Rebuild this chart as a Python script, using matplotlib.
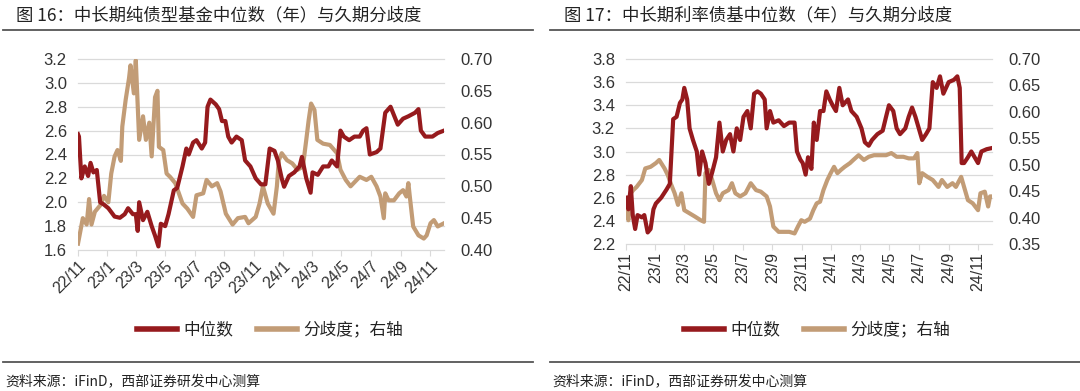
import matplotlib
matplotlib.use("Agg")
import matplotlib.pyplot as plt
import matplotlib.dates as mdates
import pandas as pd
from matplotlib.lines import Line2D
from matplotlib.transforms import blended_transform_factory

plt.rcParams['font.family'] = ['Noto Sans CJK SC', 'DejaVu Sans']

RED = '#961A1D'
TAN = '#C29C76'
GRID = '#DADADA'

# ---- 图16 中长期纯债型基金 ----
l_mid_dates = ['2022-11-01', '2022-11-03', '2022-11-08', '2022-11-15', '2022-11-22', '2022-11-27',
               '2022-12-03', '2022-12-10', '2022-12-17', '2022-12-25', '2023-01-03', '2023-01-16',
               '2023-01-27', '2023-02-06', '2023-02-13', '2023-02-23', '2023-03-01', '2023-03-05',
               '2023-03-08', '2023-03-16', '2023-03-25', '2023-04-03', '2023-04-10', '2023-04-17',
               '2023-04-22', '2023-05-01', '2023-05-08', '2023-05-19', '2023-05-26', '2023-06-06',
               '2023-06-14', '2023-06-19', '2023-06-28', '2023-07-05', '2023-07-16', '2023-07-23',
               '2023-07-28', '2023-08-03', '2023-08-14', '2023-08-21', '2023-08-27', '2023-09-03',
               '2023-09-09', '2023-09-16', '2023-09-26', '2023-10-07', '2023-10-14', '2023-10-25',
               '2023-11-05', '2023-11-16', '2023-11-25', '2023-12-04', '2023-12-14', '2023-12-21',
               '2023-12-29', '2024-01-03', '2024-01-13', '2024-01-24', '2024-02-04', '2024-02-09',
               '2024-02-18', '2024-02-27', '2024-03-02', '2024-03-13', '2024-03-24', '2024-04-04',
               '2024-04-11', '2024-04-22', '2024-04-29', '2024-05-06', '2024-05-17', '2024-05-28',
               '2024-06-08', '2024-06-15', '2024-06-22', '2024-06-29', '2024-07-13', '2024-07-21',
               '2024-07-31', '2024-08-11', '2024-08-26', '2024-09-06', '2024-09-17', '2024-10-01',
               '2024-10-08', '2024-10-13', '2024-10-22', '2024-11-06', '2024-11-17', '2024-11-30']
l_mid_vals = [2.57, 2.55, 2.20, 2.30, 2.22, 2.33,
              2.25, 2.27, 2.00, 1.98, 1.95, 1.88,
              1.87, 1.90, 1.95, 1.90, 1.90, 1.76,
              2.00, 1.85, 1.92, 1.80, 1.72, 1.63,
              1.82, 1.80, 1.90, 2.10, 2.12, 2.30,
              2.45, 2.40, 2.50, 2.52, 2.45, 2.50,
              2.80, 2.86, 2.82, 2.78, 2.68, 2.68,
              2.55, 2.50, 2.55, 2.52, 2.35, 2.30,
              2.20, 2.15, 2.15, 2.45, 2.43, 2.35,
              2.20, 2.13, 2.22, 2.25, 2.30, 2.38,
              2.20, 2.08, 2.25, 2.23, 2.30, 2.30,
              2.35, 2.30, 2.60, 2.55, 2.52, 2.55,
              2.55, 2.60, 2.62, 2.40, 2.42, 2.45,
              2.75, 2.80, 2.65, 2.70, 2.72, 2.75,
              2.78, 2.60, 2.55, 2.55, 2.58, 2.60]

l_div_dates = ['2022-11-01', '2022-11-06', '2022-11-11', '2022-11-19', '2022-11-24', '2022-11-29',
               '2022-12-06', '2022-12-17', '2022-12-25', '2023-01-03', '2023-01-09', '2023-01-16',
               '2023-01-22', '2023-01-29', '2023-02-01', '2023-02-08', '2023-02-15', '2023-02-18',
               '2023-02-25', '2023-03-01', '2023-03-08', '2023-03-16', '2023-03-22', '2023-03-29',
               '2023-04-03', '2023-04-10', '2023-04-15', '2023-04-18', '2023-04-27', '2023-05-04',
               '2023-05-11', '2023-05-22', '2023-06-06', '2023-06-16', '2023-06-28', '2023-07-05',
               '2023-07-19', '2023-07-26', '2023-08-06', '2023-08-17', '2023-08-24', '2023-09-04',
               '2023-09-18', '2023-09-29', '2023-10-14', '2023-10-21', '2023-11-05', '2023-11-13',
               '2023-11-20', '2023-11-30', '2023-12-12', '2023-12-19', '2023-12-23', '2023-12-29',
               '2024-01-09', '2024-01-20', '2024-01-31', '2024-02-11', '2024-02-18', '2024-02-23',
               '2024-02-28', '2024-03-06', '2024-03-12', '2024-03-24', '2024-04-07', '2024-04-22',
               '2024-04-29', '2024-05-10', '2024-05-20', '2024-06-08', '2024-06-22', '2024-07-02',
               '2024-07-13', '2024-07-21', '2024-07-28', '2024-07-31', '2024-08-07', '2024-08-18',
               '2024-08-29', '2024-09-06', '2024-09-13', '2024-09-17', '2024-09-20', '2024-09-27',
               '2024-10-08', '2024-10-19', '2024-10-25', '2024-11-02', '2024-11-09', '2024-11-17',
               '2024-11-30']
l_div_vals = [0.410, 0.430, 0.450, 0.440, 0.480, 0.440,
              0.460, 0.470, 0.485, 0.475, 0.520, 0.547,
              0.557, 0.540, 0.594, 0.636, 0.670, 0.690,
              0.646, 0.698, 0.573, 0.610, 0.573, 0.600,
              0.547, 0.640, 0.650, 0.562, 0.557, 0.520,
              0.515, 0.505, 0.473, 0.465, 0.452, 0.486,
              0.489, 0.510, 0.500, 0.505, 0.492, 0.457,
              0.440, 0.450, 0.452, 0.442, 0.452, 0.473,
              0.500, 0.473, 0.457, 0.500, 0.541, 0.552,
              0.541, 0.536, 0.526, 0.531, 0.573, 0.604,
              0.630, 0.620, 0.573, 0.567, 0.565, 0.552,
              0.526, 0.510, 0.500, 0.515, 0.510, 0.515,
              0.500, 0.484, 0.450, 0.489, 0.478, 0.478,
              0.489, 0.494, 0.484, 0.505, 0.484, 0.437,
              0.423, 0.418, 0.423, 0.442, 0.447, 0.437,
              0.442]

# ---- 图17 中长期利率债基 ----
r_mid_dates = ['2022-11-01', '2022-11-06', '2022-11-11', '2022-11-15', '2022-11-20', '2022-11-25',
               '2022-12-04', '2022-12-09', '2022-12-16', '2022-12-22', '2022-12-28', '2023-01-02',
               '2023-01-13', '2023-01-24', '2023-01-31', '2023-02-07', '2023-02-14', '2023-02-21',
               '2023-02-26', '2023-03-02', '2023-03-08', '2023-03-13', '2023-03-20', '2023-03-28',
               '2023-04-02', '2023-04-08', '2023-04-15', '2023-04-22', '2023-04-29', '2023-05-07',
               '2023-05-14', '2023-05-21', '2023-05-28', '2023-06-05', '2023-06-12', '2023-06-19',
               '2023-06-26', '2023-07-03', '2023-07-11', '2023-07-18', '2023-07-25', '2023-08-01',
               '2023-08-08', '2023-08-16', '2023-08-20', '2023-08-27', '2023-09-03', '2023-09-14',
               '2023-09-25', '2023-10-06', '2023-10-17', '2023-10-22', '2023-10-29', '2023-11-03',
               '2023-11-09', '2023-11-14', '2023-11-21', '2023-11-26', '2023-12-02', '2023-12-09',
               '2023-12-16', '2023-12-22', '2023-12-29', '2024-01-04', '2024-01-11', '2024-01-18',
               '2024-01-25', '2024-02-05', '2024-02-12', '2024-02-23', '2024-03-04', '2024-03-11',
               '2024-03-19', '2024-03-26', '2024-04-06', '2024-04-17', '2024-04-24', '2024-04-30',
               '2024-05-09', '2024-05-16', '2024-05-23', '2024-06-03', '2024-06-10', '2024-06-17',
               '2024-06-24', '2024-07-01', '2024-07-08', '2024-07-16', '2024-07-23', '2024-07-30',
               '2024-08-07', '2024-08-14', '2024-08-21', '2024-09-01', '2024-09-12', '2024-09-19',
               '2024-09-24', '2024-09-28', '2024-10-03', '2024-10-11', '2024-10-18', '2024-10-25',
               '2024-11-01', '2024-11-08', '2024-11-19', '2024-11-30']
r_mid_vals = [2.60, 2.50, 2.70, 2.45, 2.33, 2.45,
              2.43, 2.45, 2.30, 2.33, 2.50, 2.55,
              2.60, 2.67, 2.72, 3.28, 3.30, 3.42,
              3.45, 3.55, 3.45, 3.20, 3.10, 3.00,
              2.80, 3.00, 2.90, 2.72, 2.82, 2.95,
              3.25, 3.00, 3.10, 3.15, 3.00, 3.20,
              3.10, 3.30, 3.35, 3.20, 3.50, 3.52,
              3.50, 3.45, 3.20, 3.35, 3.25, 3.27,
              3.22, 3.25, 3.25, 3.00, 2.93, 2.90,
              2.80, 2.95, 2.85, 3.25, 3.10, 3.35,
              3.35, 3.52, 3.45, 3.40, 3.35, 3.55,
              3.40, 3.45, 3.35, 3.30, 3.20, 3.08,
              3.05, 3.10, 3.15, 3.18, 3.30, 3.40,
              3.35, 3.20, 3.15, 3.20, 3.30, 3.38,
              3.30, 3.20, 3.10, 3.15, 3.20, 3.60,
              3.55, 3.65, 3.50, 3.60, 3.62, 3.65,
              3.55, 2.90, 2.90, 2.95, 3.00, 2.95,
              2.90, 3.00, 3.02, 3.03]

r_div_dates = ['2022-11-01', '2022-11-06', '2022-11-11', '2022-11-16', '2022-11-23', '2022-12-04',
               '2022-12-11', '2022-12-22', '2023-01-02', '2023-01-09', '2023-01-20', '2023-01-27',
               '2023-02-03', '2023-02-10', '2023-02-17', '2023-02-24', '2023-03-02', '2023-03-13',
               '2023-03-24', '2023-04-05', '2023-04-12', '2023-04-15', '2023-04-22', '2023-04-29',
               '2023-05-07', '2023-05-14', '2023-05-21', '2023-06-02', '2023-06-09', '2023-06-16',
               '2023-06-26', '2023-07-07', '2023-07-18', '2023-07-29', '2023-08-08', '2023-08-20',
               '2023-08-27', '2023-09-03', '2023-09-14', '2023-09-25', '2023-10-06', '2023-10-17',
               '2023-10-24', '2023-10-31', '2023-11-07', '2023-11-18', '2023-11-25', '2023-12-02',
               '2023-12-09', '2023-12-16', '2023-12-24', '2023-12-31', '2024-01-07', '2024-01-14',
               '2024-01-21', '2024-01-29', '2024-02-09', '2024-02-16', '2024-02-27', '2024-03-09',
               '2024-03-19', '2024-03-30', '2024-04-10', '2024-04-24', '2024-05-05', '2024-05-16',
               '2024-05-30', '2024-06-10', '2024-06-21', '2024-06-28', '2024-07-02', '2024-07-08',
               '2024-07-19', '2024-07-30', '2024-08-11', '2024-08-18', '2024-08-29', '2024-09-09',
               '2024-09-16', '2024-09-27', '2024-10-03', '2024-10-11', '2024-10-21', '2024-11-01',
               '2024-11-06', '2024-11-15', '2024-11-22', '2024-11-26', '2024-11-30']
r_div_vals = [0.414, 0.395, 0.446, 0.452, 0.458, 0.471,
              0.493, 0.496, 0.503, 0.509, 0.493, 0.480,
              0.462, 0.446, 0.424, 0.446, 0.414, 0.408,
              0.402, 0.395, 0.392, 0.484, 0.490, 0.471,
              0.446, 0.433, 0.446, 0.452, 0.465, 0.446,
              0.440, 0.446, 0.465, 0.452, 0.449, 0.440,
              0.421, 0.383, 0.373, 0.373, 0.373, 0.370,
              0.383, 0.395, 0.392, 0.398, 0.414, 0.427,
              0.430, 0.452, 0.471, 0.484, 0.496, 0.484,
              0.490, 0.496, 0.503, 0.509, 0.518, 0.509,
              0.515, 0.518, 0.518, 0.518, 0.522, 0.515,
              0.515, 0.512, 0.512, 0.522, 0.465, 0.484,
              0.477, 0.471, 0.458, 0.471, 0.458, 0.465,
              0.458, 0.477, 0.458, 0.433, 0.427, 0.414,
              0.446, 0.449, 0.421, 0.440, 0.440]

l_yticks = [1.6, 1.8, 2.0, 2.2, 2.4, 2.6, 2.8, 3.0, 3.2]
l_y2ticks = [0.40, 0.45, 0.50, 0.55, 0.60, 0.65, 0.70]
r_yticks = [2.2, 2.4, 2.6, 2.8, 3.0, 3.2, 3.4, 3.6, 3.8]
r_y2ticks = [0.35, 0.40, 0.45, 0.50, 0.55, 0.60, 0.65, 0.70]
x_start, x_end = '2022-11-01', '2024-11-30'


def draw(rect, mid_d, mid_v, div_d, div_v, yt, y2t, rot):
    ax = fig.add_axes(rect)
    ax2 = ax.twinx()
    ax.set_zorder(ax2.get_zorder() + 1)
    ax.patch.set_visible(False)

    ax.plot(pd.to_datetime(mid_d), mid_v, color=RED, lw=3, solid_joinstyle='round')
    ax2.plot(pd.to_datetime(div_d), div_v, color=TAN, lw=3, solid_joinstyle='round')

    ax.set_ylim(yt[0], yt[-1])
    ax.set_yticks(yt)
    ax.set_yticklabels([f'{v:.1f}' for v in yt])
    ax2.set_ylim(y2t[0], y2t[-1])
    ax2.set_yticks(y2t)
    ax2.set_yticklabels([f'{v:.2f}' for v in y2t])

    ax.set_xlim(pd.Timestamp(x_start), pd.Timestamp(x_end))
    ax.xaxis.set_major_locator(mdates.MonthLocator(bymonth=[1, 3, 5, 7, 9, 11]))
    ax.xaxis.set_major_formatter(
        plt.FuncFormatter(lambda x, p: f"{mdates.num2date(x).year % 100}/{mdates.num2date(x).month}"))

    # grid drawn in the lower axes so it stays under both lines
    ax2.grid(axis='x', color=GRID, lw=0.9)
    tr = blended_transform_factory(ax2.transAxes, ax.transData)
    for v in yt:
        ax2.plot([0, 1], [v, v], transform=tr, color=GRID, lw=0.9, zorder=0, clip_on=False)

    for a in (ax, ax2):
        for s in a.spines.values():
            s.set_visible(False)
    ax.tick_params(axis='y', length=0, labelsize=12, labelcolor='#333333', pad=8)
    ax2.tick_params(axis='y', length=0, labelsize=12, labelcolor='#333333', pad=12)
    ax.tick_params(axis='x', length=4, color=GRID, labelsize=11.5, labelcolor='#333333', pad=2)
    for lab in ax.get_yticklabels() + ax2.get_yticklabels() + ax.get_xticklabels():
        lab.set_family(['Liberation Sans', 'DejaVu Sans'])
    if rot == 45:
        plt.setp(ax.get_xticklabels(), rotation=45, ha='right', rotation_mode='anchor')
    else:
        plt.setp(ax.get_xticklabels(), rotation=90, ha='center', va='top')
    return ax


fig = plt.figure(figsize=(10.8, 3.91), dpi=100)

draw([78 / 1080, 1 - 250 / 391, 366 / 1080, 191 / 391],
     l_mid_dates, l_mid_vals, l_div_dates, l_div_vals, l_yticks, l_y2ticks, 45)
draw([626 / 1080, 1 - 244 / 391, 366 / 1080, 185 / 391],
     r_mid_dates, r_mid_vals, r_div_dates, r_div_vals, r_yticks, r_y2ticks, 90)

fig.text(16 / 1080, 1 - 15 / 391, '图 16：中长期纯债型基金中位数（年）与久期分歧度',
         fontsize=12.5, color='#222222', va='center', ha='left')
fig.text(564 / 1080, 1 - 15 / 391, '图 17：中长期利率债基中位数（年）与久期分歧度',
         fontsize=12.5, color='#222222', va='center', ha='left')

for x0, x1 in [(3, 533), (550, 1080)]:
    fig.add_artist(Line2D([x0 / 1080, x1 / 1080], [1 - 30 / 391] * 2, color='#555555', lw=1.3))
    fig.add_artist(Line2D([x0 / 1080, x1 / 1080], [1 - 362 / 391] * 2, color='#555555', lw=1.3))

handles = [Line2D([], [], color=RED, lw=4), Line2D([], [], color=TAN, lw=4)]
labels = ['中位数', '分歧度；右轴']
for cx in (270 / 1080, 817 / 1080):
    fig.legend(handles, labels, loc='center', bbox_to_anchor=(cx, 1 - 330 / 391), ncol=2,
               frameon=False, fontsize=12, handlelength=2.4, handletextpad=0.4,
               columnspacing=1.4, labelcolor='#222222')

for x0 in (5, 552):
    fig.text(x0 / 1080, 1 - 381 / 391, '资料来源：iFinD，西部证券研发中心测算',
             fontsize=10, color='#222222', va='center', ha='left')

fig.savefig('out.png', dpi=100)
